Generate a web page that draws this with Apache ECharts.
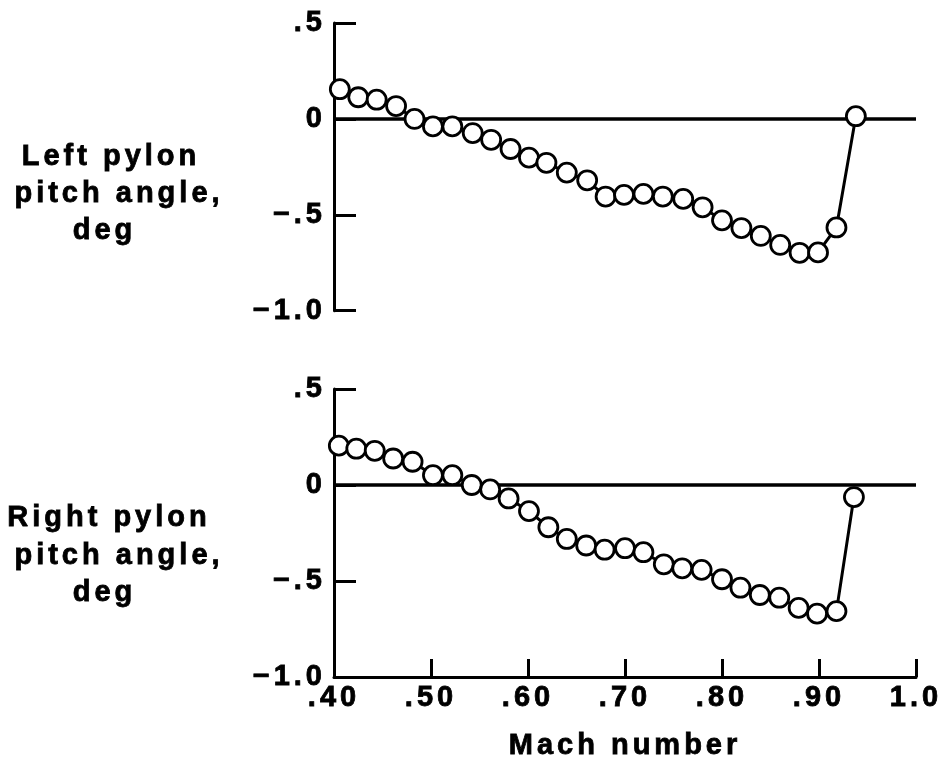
<!DOCTYPE html>
<html>
<head>
<meta charset="utf-8">
<script src="https://cdn.jsdelivr.net/npm/echarts@6/dist/echarts.min.js"></script>
<style>
html,body{margin:0;padding:0;background:#fff;}
#c{width:949px;height:766px;}
</style>
</head>
<body>
<div id="c"></div>
<script>
// ---- data ----
const leftMach = [0.406,0.425,0.444,0.464,0.483,0.502,0.522,0.543,0.562,0.582,0.601,0.619,0.640,0.661,0.680,0.699,0.719,0.739,0.760,0.780,0.800,0.820,0.840,0.860,0.880,0.899,0.918,0.938];
const leftPitch = [0.155,0.113,0.100,0.067,0.000,-0.039,-0.039,-0.074,-0.109,-0.157,-0.202,-0.229,-0.280,-0.320,-0.405,-0.396,-0.391,-0.405,-0.417,-0.461,-0.529,-0.569,-0.610,-0.657,-0.698,-0.696,-0.566,0.014];
const rightMach = [0.405,0.423,0.442,0.461,0.481,0.502,0.522,0.542,0.561,0.580,0.601,0.621,0.640,0.660,0.679,0.700,0.719,0.740,0.759,0.779,0.800,0.819,0.839,0.859,0.879,0.898,0.918,0.936];
const rightPitch = [0.205,0.189,0.178,0.138,0.121,0.051,0.051,0.000,-0.023,-0.070,-0.136,-0.220,-0.281,-0.315,-0.337,-0.329,-0.350,-0.413,-0.434,-0.442,-0.491,-0.535,-0.573,-0.587,-0.640,-0.670,-0.657,-0.063];
const xTickValues = [0.4,0.5,0.6,0.7,0.8,0.9,1.0];
const xTickLabels = ['.40','.50','.60','.70','.80','.90','1.0'];
const yTickValues = [-1.0,-0.5,0,0.5];
const yTickLabels = ['\u22121.0','\u2212.5','0','.5'];
const topTitle = ['Left pylon','pitch angle,','deg'];
const bottomTitle = ['Right pylon','pitch angle,','deg'];
const xTitle = 'Mach number';

// wide tracking like the original lettering
const LS = 4;
const origFill = CanvasRenderingContext2D.prototype.fillText;
const origStroke = CanvasRenderingContext2D.prototype.strokeText;
CanvasRenderingContext2D.prototype.fillText = function(){
  try { this.letterSpacing = LS + 'px'; } catch(e) {}
  return origFill.apply(this, arguments);
};
CanvasRenderingContext2D.prototype.strokeText = function(){
  try { this.letterSpacing = LS + 'px'; } catch(e) {}
  return origStroke.apply(this, arguments);
};

const FONT = '"Liberation Sans", Arial, Helvetica, sans-serif';
const FS = 29;
const BLACK = '#000';

function pairs(xs, ys){ return xs.map((x,i)=>[x, ys[i]]); }
function xFmt(v){ const i = xTickValues.findIndex(t=>Math.abs(t-v)<1e-6); return i>=0 ? xTickLabels[i] : ''; }
function yFmt(v){ const i = yTickValues.findIndex(t=>Math.abs(t-v)<1e-6); return i>=0 ? yTickLabels[i] : ''; }

const labelStyle = {color: BLACK, fontFamily: FONT, fontWeight: 'bold', fontSize: FS, textBorderColor: BLACK, textBorderWidth: 0.8};

function yAxisCfg(gi){
  return {
    gridIndex: gi, type: 'value', min: -1.0, max: 0.5, interval: 0.5,
    axisLine: {show: true, onZero: false, lineStyle: {color: BLACK, width: 3}},
    axisTick: {show: true, inside: true, length: 22, lineStyle: {color: BLACK, width: 3}},
    axisLabel: Object.assign({formatter: yFmt, margin: 8}, labelStyle),
    splitLine: {show: false}
  };
}

function dataSeries(xi, xs, ys){
  return {
    type: 'line', xAxisIndex: xi, yAxisIndex: xi, z: 5,
    data: pairs(xs, ys),
    symbol: 'circle', symbolSize: 19, showSymbol: true,
    lineStyle: {color: BLACK, width: 3},
    itemStyle: {color: '#fff', borderColor: BLACK, borderWidth: 2.8},
    emphasis: {disabled: true}
  };
}
function zeroSeries(xi){
  return {
    type: 'line', xAxisIndex: xi, yAxisIndex: xi, z: 1, data: [],
    markLine: {
      silent: true, symbol: ['none','none'], label: {show: false},
      lineStyle: {color: BLACK, width: 3.5, type: 'solid'},
      data: [{yAxis: 0}]
    }
  };
}

function titleTexts(lines, cx, baseY){
  return lines.map((t,i)=>({
    type: 'text', x: cx[i] + LS/2, y: baseY[i] - 9,
    style: {text: t, fill: BLACK, stroke: BLACK, lineWidth: 0.8, font: 'bold ' + FS + 'px ' + FONT, align: 'center', verticalAlign: 'middle'}
  }));
}

const chart = echarts.init(document.getElementById('c'), null, {renderer: 'canvas'});
chart.setOption({
  animation: false,
  backgroundColor: '#fff',
  grid: [
    {left: 334, right: 33, top: 23, height: 287.7},
    {left: 334, right: 33, top: 389, height: 288}
  ],
  xAxis: [
    {gridIndex: 0, type: 'value', min: 0.4, max: 1.0, interval: 0.1, show: false},
    {gridIndex: 1, type: 'value', min: 0.4, max: 1.0, interval: 0.1,
      axisLine: {show: true, onZero: false, lineStyle: {color: BLACK, width: 3}},
      axisTick: {show: true, inside: true, length: 18, lineStyle: {color: BLACK, width: 3}},
      axisLabel: Object.assign({formatter: xFmt, margin: 6}, labelStyle),
      splitLine: {show: false},
      name: xTitle, nameLocation: 'middle', nameGap: 54,
      nameTextStyle: labelStyle
    }
  ],
  yAxis: [yAxisCfg(0), yAxisCfg(1)],
  series: [
    zeroSeries(0), zeroSeries(1),
    dataSeries(0, leftMach, leftPitch),
    dataSeries(1, rightMach, rightPitch)
  ],
  graphic: [].concat(
    titleTexts(topTitle, [109, 117, 102.5], [166, 203, 240]),
    titleTexts(bottomTitle, [107, 117, 102.5], [527, 565, 602])
  )
});
</script>
</body>
</html>
